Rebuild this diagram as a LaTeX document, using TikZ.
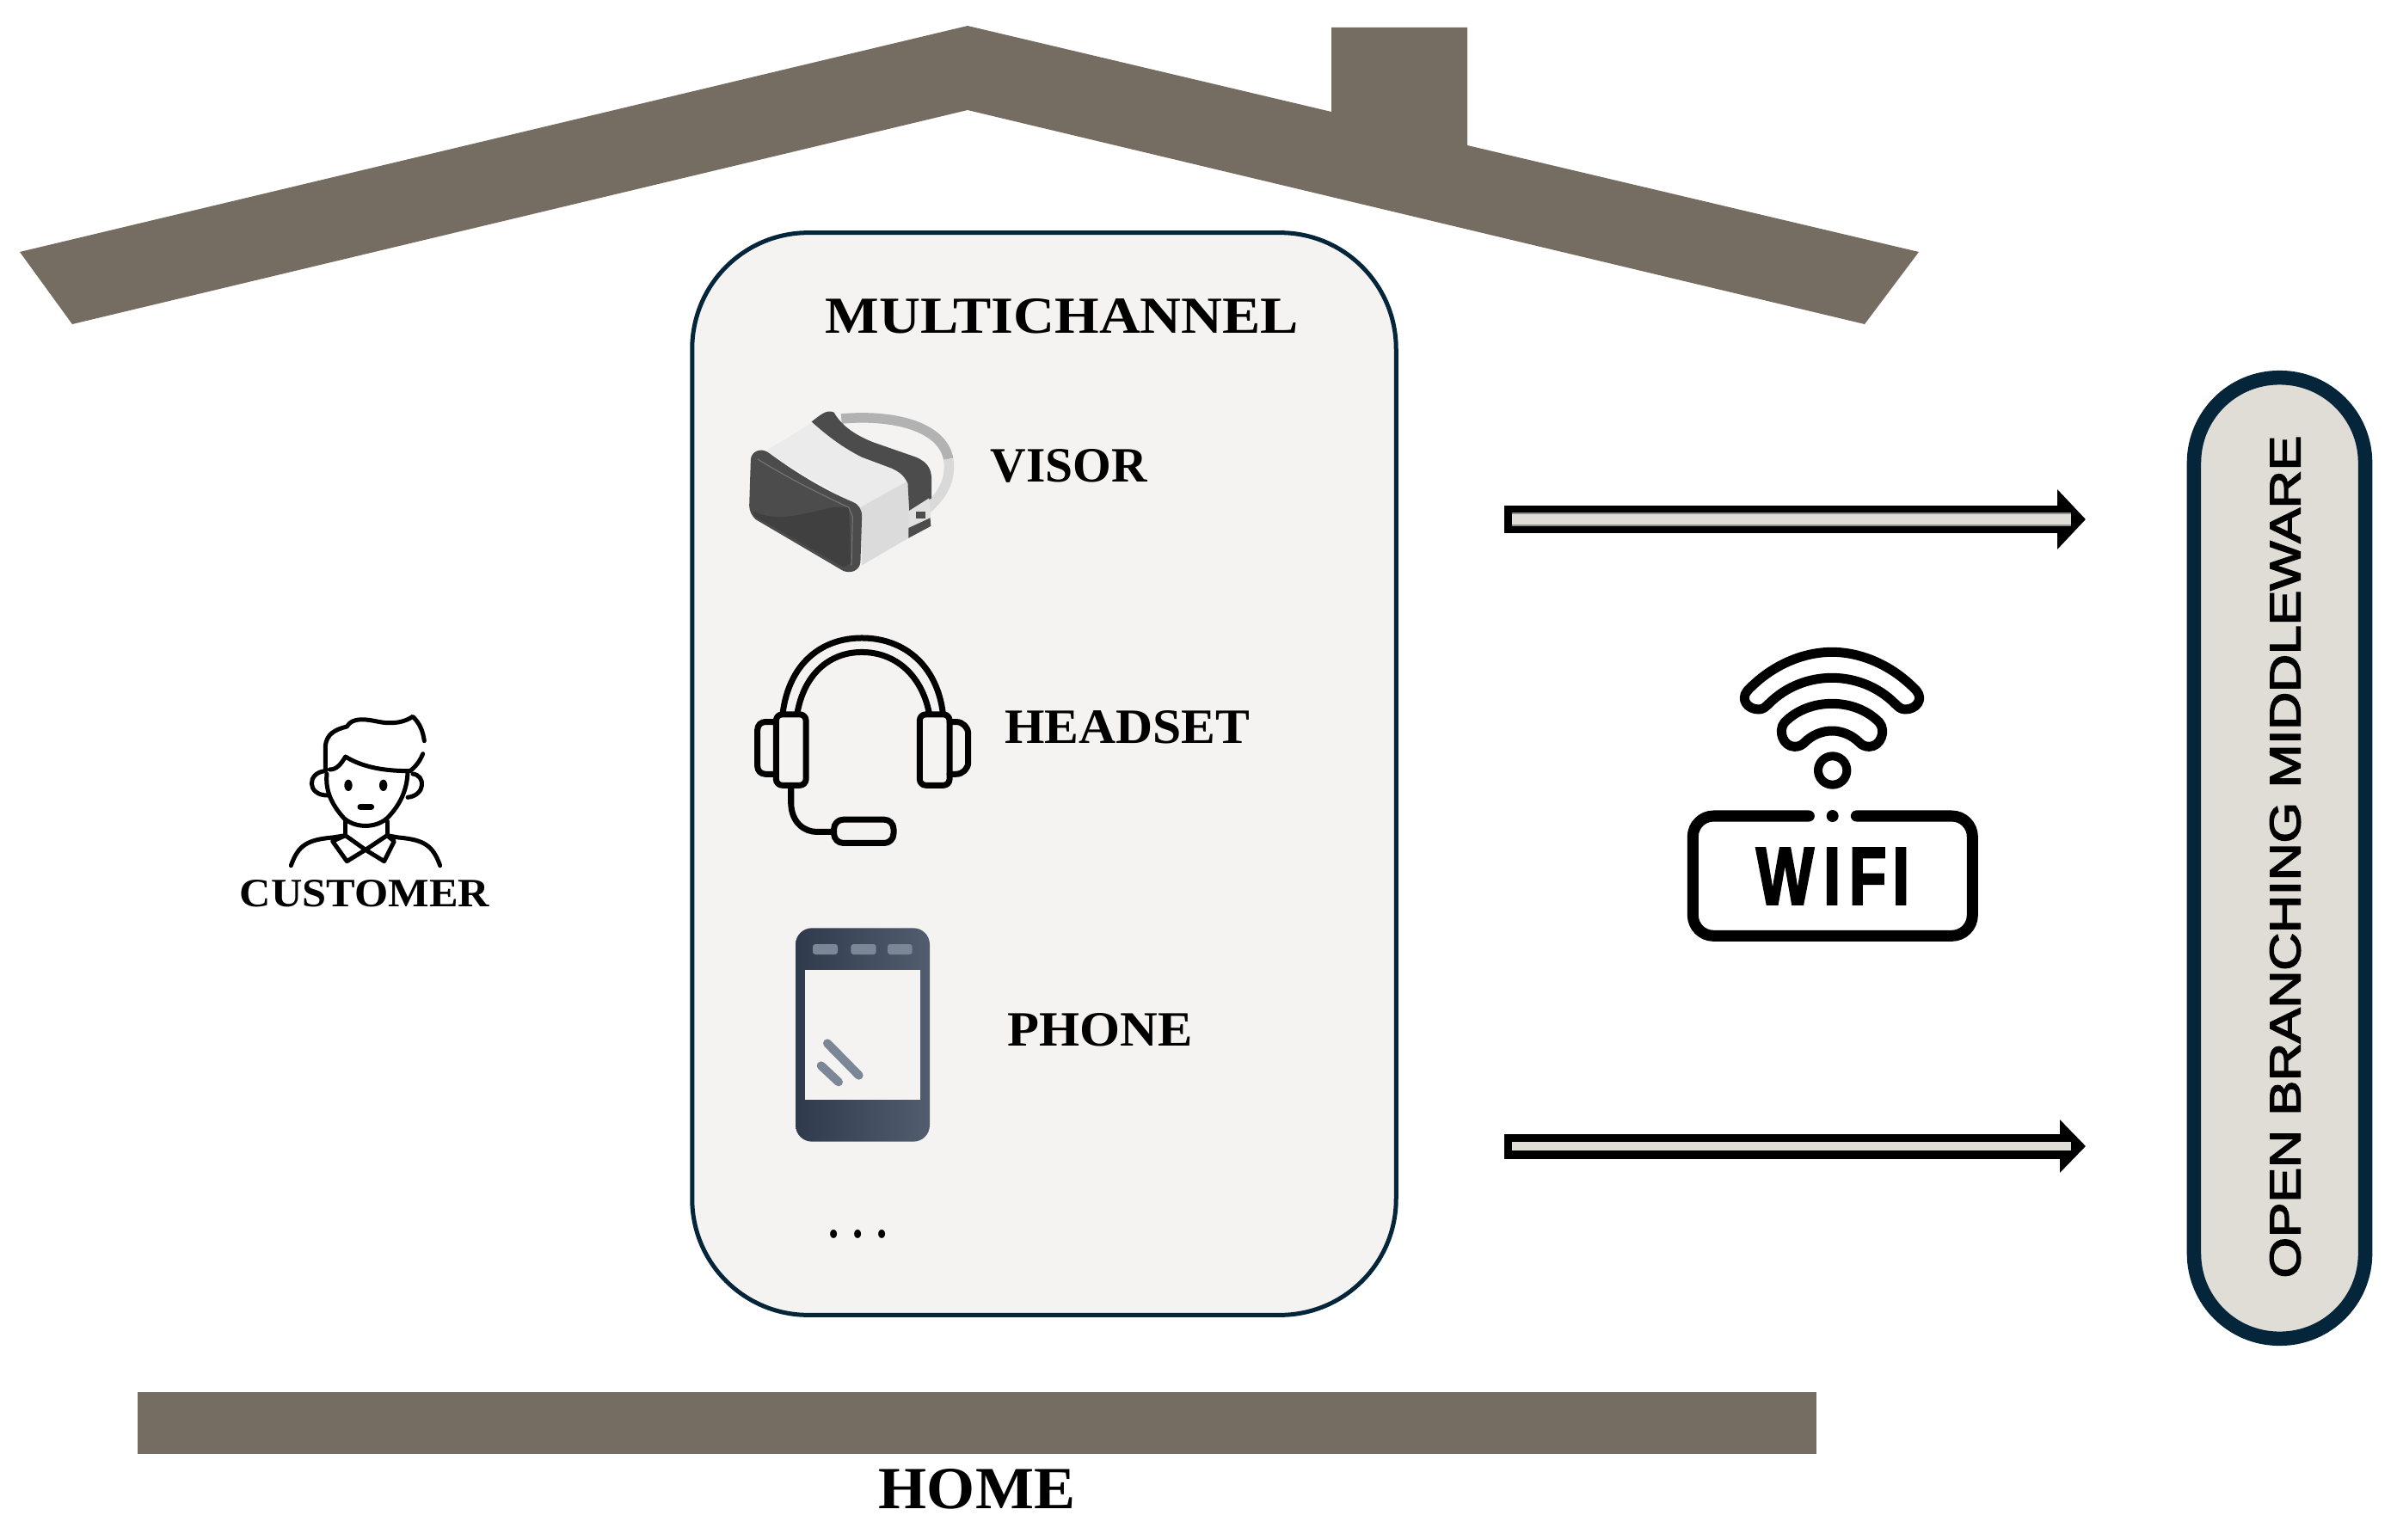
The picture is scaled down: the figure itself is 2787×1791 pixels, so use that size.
\documentclass[tikz,border=0pt]{standalone}
\usepackage{fontspec}
\usepackage{graphicx}
\usetikzlibrary{arrows.meta}
\setmainfont{Liberation Serif}
\newfontfamily\wifisans[FakeBold=3]{Liberation Sans Bold}
\newfontfamily\pillsans[FakeBold=3]{Liberation Sans}
\definecolor{roofbrown}{HTML}{766D62}
\definecolor{navyline}{HTML}{05263A}
\definecolor{boxfill}{HTML}{F4F3F1}
\definecolor{pillfill}{HTML}{E0DCD6}
\definecolor{phoneL}{HTML}{2F3A4D}
\definecolor{phoneR}{HTML}{525E70}
\definecolor{phoneD}{HTML}{7B8797}
\newcommand{\fitbox}[3]{\resizebox{#1cm}{#2cm}{#3}}
\tikzset{
  house/.style={fill=roofbrown,draw=none},
  labeltext/.style={inner sep=0pt,outer sep=0pt,text=black,font=\bfseries},
  channelbox/.style={draw=navyline,fill=boxfill,line width=0.05cm,rounded corners=1.35cm,
    minimum width=8.18cm,minimum height=12.58cm,inner sep=0pt},
  middlewarepill/.style={draw=navyline,fill=pillfill,line width=0.165cm,rounded corners=0.99cm,
    minimum width=1.99cm,minimum height=11.17cm,inner sep=0pt},
  bigtip/.style={-{Triangle[length=0.33cm,width=0.68cm]}},
  arrowbody/.style={draw=black,line cap=butt},
  arrowcore/.style={draw=pillfill,line cap=butt},
  iconline/.style={draw=black,line cap=round,line join=round,fill=none},
}
\begin{document}
\begin{tikzpicture}[x=0.01cm,y=-0.01cm]
\useasboundingbox (0,0) rectangle (2787,1791);
\fill[white] (0,0) rectangle (2787,1791);

% roof, chimney, floor
\fill[house] (23,293) -- (1125,30) -- (1548,130) -- (1548,32) -- (1706,32) -- (1706,169)
  -- (2231,293) -- (2168,377) -- (1125,128) -- (84,377) -- cycle;
\node[house,inner sep=0pt,minimum width=19.5cm,minimum height=0.72cm] (floor) at (1136,1655) {};
\node[labeltext] (home) at (1136,1732) {\fitbox{2.28}{0.46}{HOME}};

% multichannel box
\node[channelbox] (channels) at (1214,900) {};
\node[labeltext] (multi) at (1235,368) {\fitbox{5.50}{0.40}{MULTICHANNEL}};
\node[labeltext] (visorl) at (1243,542) {\fitbox{1.82}{0.38}{VISOR}};
\node[labeltext] (headl) at (1311,846) {\fitbox{2.85}{0.38}{HEADSET}};
\node[labeltext] (phonel) at (1279,1198) {\fitbox{2.15}{0.38}{PHONE}};
\node[labeltext] (more) at (998,1435) {\fitbox{0.68}{0.09}{.\kern.32em.\kern.32em.}};

% customer
\node[labeltext] (customer) at (424,1039) {\fitbox{2.90}{0.31}{CUSTOMER}};
\begin{scope}[shift={(250,800)},scale=0.33333,iconline,line width=0.05cm]
  \draw (385,290) -- (385,205) .. controls (388,160) and (420,145) .. (460,135)
    .. controls (480,100) and (530,110) .. (570,118) .. controls (620,128) and (660,120) .. (690,100)
    .. controls (715,125) and (725,150) .. (730,185);
  \draw (400,285) .. controls (425,285) and (440,265) .. (455,240) .. controls (520,280) and (600,290) .. (680,290)
    .. controls (700,275) and (715,255) .. (725,230);
  \draw (385,290) .. controls (320,295) and (320,375) .. (392,375);
  \draw (690,300) .. controls (735,305) and (735,375) .. (672,382);
  \draw (390,300) .. controls (385,350) and (400,400) .. (450,455) .. controls (490,490) and (560,490) .. (600,455)
    .. controls (650,405) and (670,350) .. (672,295);
  \draw (455,465) -- (455,515);
  \draw (600,465) -- (600,515);
  \draw[line join=round] (410,535) -- (455,515) -- (525,565) -- (600,515) -- (625,535) -- (590,605) -- (525,565) -- (460,605) -- cycle;
  \draw (265,620) .. controls (290,550) and (320,530) .. (410,522) -- (455,515);
  \draw (785,620) .. controls (760,550) and (730,530) .. (640,522) -- (600,515);
  \fill[black] (465,340) ellipse (14 and 20);
  \fill[black] (587,340) ellipse (14 and 20);
  \draw[line width=0.07cm] (507,415) -- (545,415);
\end{scope}

% visor
\begin{scope}[shift={(820,330)},scale=0.43365]
  \draw[color=black!30,line width=0.115cm] (365,362) .. controls (500,350) and (635,380) .. (652,470);
  \draw[color=black!15,line width=0.115cm] (652,470) .. controls (660,530) and (635,570) .. (585,612);
  \fill[black!8,rounded corners=0.05cm] (160,450) -- (290,370) -- (535,505) -- (545,530) -- (415,600) -- cycle;
  \fill[black!14] (415,600) -- (545,528) -- (548,680) -- (420,755) -- cycle;
  \fill[black!70] (285,370) .. controls (305,355) and (325,335) .. (345,345) .. controls (365,380) and (400,405) .. (450,425)
    -- (565,465) .. controls (600,480) and (607,500) .. (607,530) -- (607,575) -- (547,610) -- (543,535)
    .. controls (530,510) and (520,505) .. (500,495) -- (420,465) .. controls (370,440) and (330,410) .. (285,370) -- cycle;
  \fill[black!12] (545,610) -- (600,575) -- (605,635) -- (545,665) -- cycle;
  \fill[black!70] (545,655) -- (603,628) -- (605,650) -- (545,682) -- cycle;
  \fill[black!70] (565,610) rectangle (590,630);
  \fill[black!70] (122,470) .. controls (125,448) and (150,440) .. (168,452) .. controls (220,490) and (300,545) .. (395,585)
    .. controls (412,592) and (420,605) .. (420,625) -- (416,748) .. controls (412,770) and (390,778) .. (370,770)
    -- (135,632) .. controls (125,622) and (118,610) .. (118,595) -- cycle;
  \fill[black!75] (130,610) .. controls (190,640) and (250,620) .. (340,600) -- (385,600) -- (390,750) -- (370,760) -- (130,622) -- cycle;
  \draw[black!55,line width=0.012cm] (140,470) .. controls (220,520) and (300,560) .. (385,600) -- (395,625) -- (392,755);
\end{scope}

% headset
\begin{scope}[shift={(820,330)},scale=0.43365,iconline,line width=0.07cm]
  \draw (208,1150) .. controls (225,1020) and (310,950) .. (420,950) .. controls (530,950) and (620,1020) .. (637,1150);
  \draw (247,1150) .. controls (265,1050) and (330,988) .. (420,988) .. controls (510,988) and (580,1050) .. (600,1150);
  \draw[rounded corners=0.07cm] (190,1155) rectangle (270,1345);
  \draw[rounded corners=0.07cm] (575,1155) rectangle (655,1345);
  \draw[rounded corners=0.09cm] (190,1175) -- (140,1175) -- (140,1315) -- (190,1315);
  \draw[rounded corners=0.14cm] (655,1175) -- (705,1175) -- (705,1315) -- (655,1315);
  \draw (230,1345) -- (230,1395) .. controls (232,1445) and (265,1470) .. (300,1470) -- (345,1470);
  \draw[rounded corners=0.11cm] (345,1437) rectangle (505,1500);
\end{scope}

% phone
\begin{scope}[shift={(820,1040)},scale=0.33333]
  \shade[left color=phoneL,right color=phoneR,rounded corners=0.19cm] (315,118) rectangle (783,863);
  \fill[boxfill] (347,264) rectangle (750,718);
  \fill[phoneD,rounded corners=0.03cm] (375,174) rectangle (462,210);
  \fill[phoneD,rounded corners=0.03cm] (508,174) rectangle (596,210);
  \fill[phoneD,rounded corners=0.03cm] (636,174) rectangle (722,210);
  \draw[phoneD,line width=0.10cm,line cap=round] (426,520) -- (536,632);
  \draw[phoneD,line width=0.10cm,line cap=round] (404,598) -- (465,655);
\end{scope}

% arrows
\coordinate (a1s) at (1749,604);
\coordinate (a1e) at (2425,604);
\coordinate (a1cs) at (1758,604);
\coordinate (a1ce) at (2408,604);
\coordinate (a2s) at (1749,1333);
\coordinate (a2e) at (2425,1333);
\coordinate (a2cs) at (1758,1333);
\coordinate (a2ce) at (2408,1333);
\draw[arrowbody,bigtip,line width=0.32cm] (a1s) -- (a1e);
\draw[draw=black!45,line width=0.15cm,line cap=butt] (a1cs) -- (a1ce);
\draw[arrowcore,line width=0.11cm] (a1cs) -- (a1ce);
\draw[arrowbody,-{Triangle[length=0.30cm,width=0.60cm]},line width=0.29cm] (a2s) -- (a2e);
\draw[arrowcore,line width=0.10cm] (a2cs) -- (a2ce);

% wifi icon
\begin{scope}[shift={(1920,730)},scale=0.33333,iconline,line width=0.11cm]
  \draw (335,220) .. controls (420,130) and (530,85) .. (630,85) .. controls (730,85) and (840,130) .. (925,220)
    .. controls (950,250) and (925,285) .. (885,285) .. controls (870,285) and (860,275) .. (850,265)
    .. controls (790,205) and (710,175) .. (630,175) .. controls (550,175) and (470,205) .. (410,265)
    .. controls (400,275) and (390,285) .. (375,285) .. controls (335,285) and (310,250) .. (335,220) -- cycle;
  \draw (465,330) .. controls (510,285) and (570,265) .. (630,265) .. controls (690,265) and (750,285) .. (795,330)
    .. controls (820,360) and (800,415) .. (760,415) .. controls (745,415) and (735,410) .. (725,400)
    .. controls (700,375) and (665,360) .. (630,360) .. controls (595,360) and (560,375) .. (535,400)
    .. controls (525,410) and (515,415) .. (500,415) .. controls (460,415) and (440,360) .. (465,330) -- cycle;
  \draw[line width=0.10cm] (632,498) circle (50);
  \fill[black] (632,657) circle (21);
  \draw[line width=0.13cm,rounded corners=0.24cm] (550,657) -- (145,657) -- (145,1075) -- (1120,1075) -- (1120,657) -- (715,657);
\end{scope}
\node[labeltext,font=\normalfont] (wifi) at (2131,1019) {\fitbox{1.78}{0.65}{\wifisans W\kern.16em I\kern.14em F\kern.1em I}};

% middleware pill
\node[middlewarepill] (pill) at (2650.5,998) {};
\node[labeltext,rotate=90,font=\normalfont] (mid) at (2657,996.5) {\fitbox{9.79}{0.35}{\pillsans OPEN BRANCHING MIDDLEWARE}};
\end{tikzpicture}
\end{document}
